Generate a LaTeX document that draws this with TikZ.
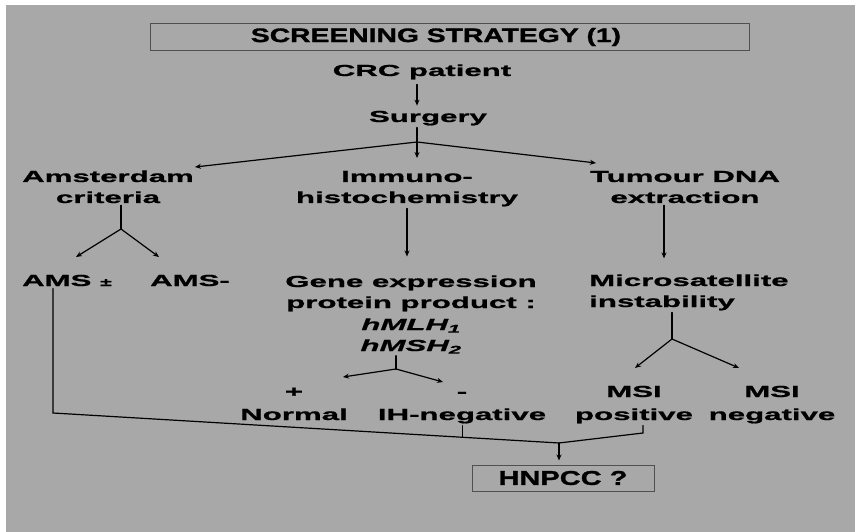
\documentclass[tikz,border=0pt]{standalone}
\usepackage{fontspec}
\newfontfamily\bodyfont{Liberation Sans}[FakeStretch=1.95, FakeBold=1]
\newfontfamily\headfont{Liberation Sans}[FakeStretch=1.45, FakeBold=1.5]
\usetikzlibrary{
  positioning,
  arrows.meta,
  calc
}
\definecolor{slidegray}{RGB}{168,168,168}
\definecolor{boxedge}{RGB}{80,80,80}

\begin{document}
\begin{tikzpicture}[
  x=1pt, y=-1pt,
  font=\bodyfont\bfseries\fontsize{16}{21}\selectfont,
  term/.style={anchor=base, align=center, inner sep=2pt},
  headbox/.style={draw=boxedge, line width=1pt, inner sep=0pt, minimum width=599pt, minimum height=27pt, font=\headfont\bfseries\fontsize{19.5}{19.5}\selectfont},
  line/.style={line width=1.2pt, line cap=round},
  arrow/.style={line, -{Stealth[length=6pt, width=5pt]}}
]

% Background
\useasboundingbox (0,0) rectangle (855,532);
\fill[white] (0,0) rectangle (855,532);
\fill[slidegray] (6,5) rectangle (855,532);

% Nodes (multi-line nodes sit on their last baseline)
\node[headbox] (title) at (450,37) {\hspace*{-28pt}SCREENING STRATEGY (1)};
\node[term] (crc) at (422,76) {CRC patient};
\node[term] (surgery) at (428,122) {Surgery};
\node[term] (amst) at (108,203) {Amsterdam\\criteria};
\node[term] (immuno) at (407,203) {Immuno-\\histochemistry};
\node[term] (tumour) at (685,203) {Tumour DNA\\extraction};
\node[term] (amsp) at (67,286) {AMS {\fontsize{11}{11}\selectfont ±}};
\node[term] (amsm) at (190,286) {AMS-};
\node[term] (gene) at (411,351) {Gene expression\\protein product :\\[1pt]\textit{hMLH\textsubscript{1}}\\\textit{hMSH\textsubscript{2}}};
\node[term, anchor=base west, align=left] (micro) at (587,307) {Microsatellite\\instability};
\node[term] (pos) at (294,420) {+\\[2pt]Normal};
\node[term] (neg) at (462,420) {-\\[2pt]IH-negative};
\node[term] (msip) at (634,420) {MSI\\[2pt]positive};
\node[term] (msin) at (772,420) {MSI\\[2pt]negative};
\node[headbox, minimum width=182pt, minimum height=26pt, font=\headfont\bfseries\fontsize{20}{20}\selectfont] (hnpcc) at (563,478) {HNPCC ?};

% Forks and joins
\coordinate (split) at (417,142);
\coordinate (amsfork) at (121,229);
\coordinate (genefork) at (396,369);
\coordinate (msifork) at (672,339);
\coordinate (merge) at (559,443);
\coordinate (amsbend) at (53,413);
\coordinate (msibend) at (643,433);
\path (amsbend) -- (merge) coordinate[pos=0.81] (ihjoin);

% Arrows
\draw[arrow, shorten <=3pt, shorten >=3pt] (crc.south -| split) -- (surgery.north -| split);
\draw[line] (surgery.south -| split) -- (split);
\draw[arrow] (split) -- ++(-222,25);
\draw[arrow] (split) -- ++(0,16);
\draw[arrow] (split) -- ++(179,21);

\draw[line] (amst.south -| amsfork) -- (amsfork);
\draw[arrow] (amsfork) -- ++(-45,28);
\draw[arrow] (amsfork) -- ++(38,28);

\draw[arrow] (immuno.south) -- ++(0,48);
\draw[arrow] ([xshift=-21pt]tumour.south) -- ++(0,53);

\draw[line] (micro.south -| msifork) -- (msifork);
\draw[arrow] (msifork) -- ++(-37,29);
\draw[arrow] (msifork) -- ++(67,29);

\draw[line] (gene.south -| genefork) -- (genefork);
\draw[arrow] (genefork) -- ++(-53,8);
\draw[arrow] (genefork) -- ++(47,13);

\draw[line] (amsp.south -| amsbend) -- (amsbend) -- (merge);
\draw[line] (neg.south -| ihjoin) -- (ihjoin);
\draw[line] (msip.south -| msibend) -- (msibend) -- (merge);
\draw[arrow, shorten >=4pt] (merge) -- (merge |- hnpcc.north);

\end{tikzpicture}
\end{document}
